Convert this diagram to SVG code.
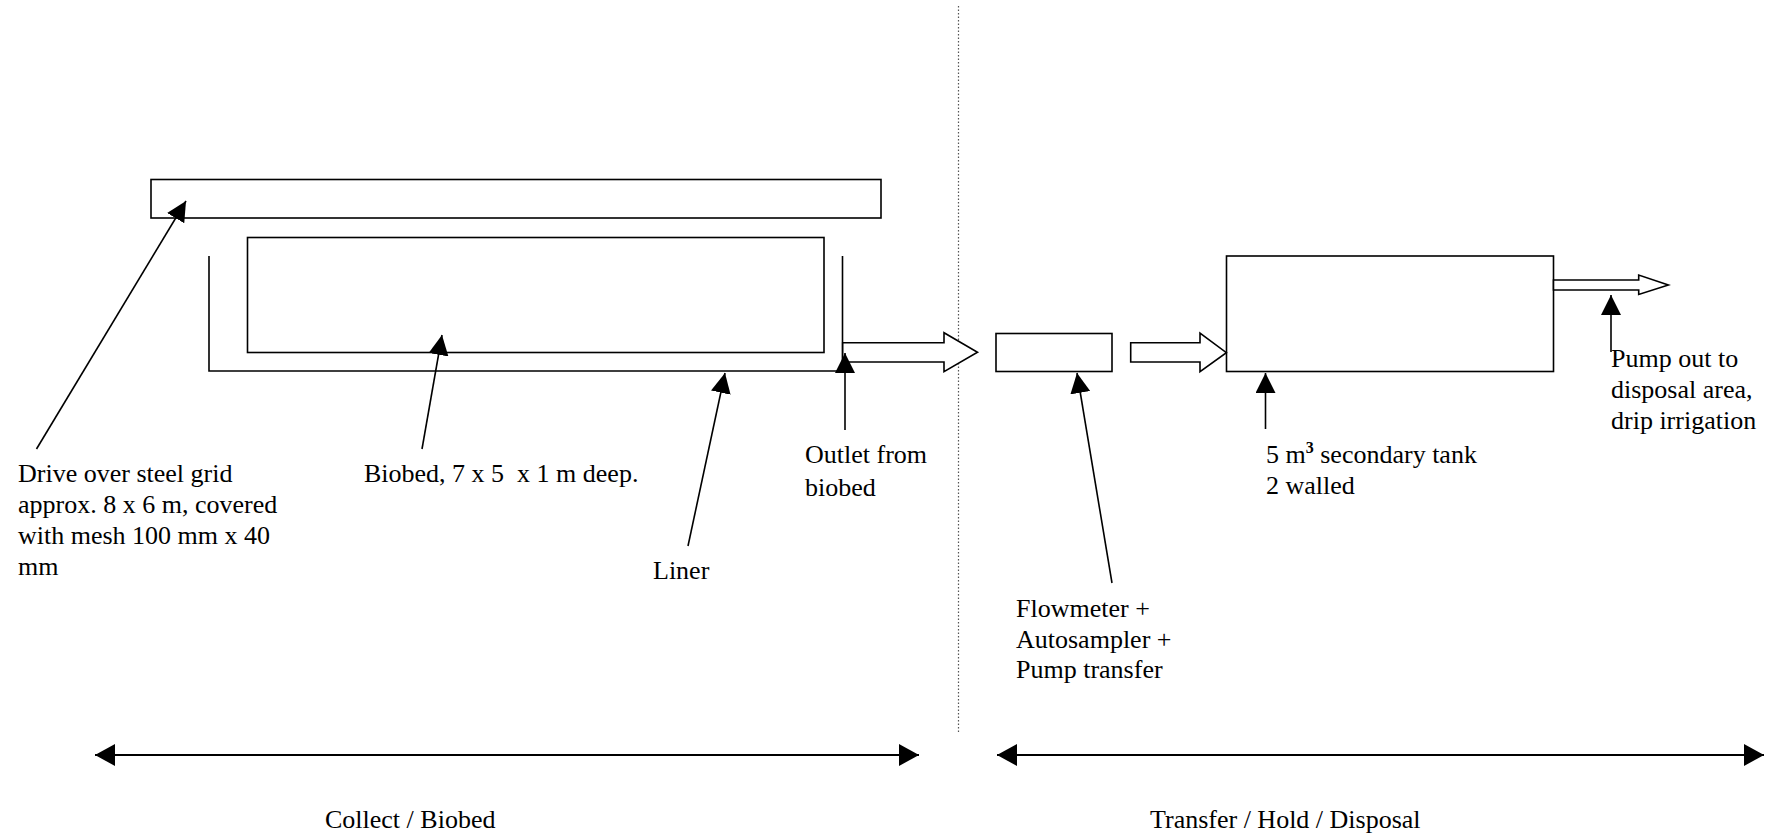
<svg xmlns="http://www.w3.org/2000/svg" width="1783" height="837" viewBox="0 0 1783 837">
<style>
  .box { fill: #ffffff; stroke: #000000; stroke-width: 1.6; }
  .ln { fill: none; stroke: #000000; stroke-width: 1.6; }
  .ptr { fill: none; stroke: #000000; stroke-width: 1.6; marker-end: url(#tri); }
  .dbl { fill: none; stroke: #000000; stroke-width: 2; marker-start: url(#triS); marker-end: url(#tri2); }
  .blk { fill: #ffffff; stroke: #000000; stroke-width: 1.6; stroke-linejoin: miter; }
  .dot { fill: none; stroke: #555555; stroke-width: 1.2; stroke-dasharray: 1.5 2; }
  text { font-family: "Liberation Serif", "Times New Roman", serif; font-size: 26px; fill: #000000; }
</style>
<defs>
  <marker id="tri" viewBox="0 0 20 20" refX="20" refY="10" markerWidth="20" markerHeight="20" markerUnits="userSpaceOnUse" orient="auto">
    <path d="M0,0 L20,10 L0,20 Z" fill="#000000"/>
  </marker>
  <marker id="tri2" viewBox="0 0 20 22" refX="20" refY="11" markerWidth="20" markerHeight="22" markerUnits="userSpaceOnUse" orient="auto">
    <path d="M0,0 L20,11 L0,22 Z" fill="#000000"/>
  </marker>
  <marker id="triS" viewBox="0 0 20 22" refX="0" refY="11" markerWidth="20" markerHeight="22" markerUnits="userSpaceOnUse" orient="auto">
    <path d="M20,0 L0,11 L20,22 Z" fill="#000000"/>
  </marker>
</defs>

<line class="dot" x1="958.5" y1="6" x2="958.5" y2="733"/>

<g id="grid">
  <rect class="box" x="151" y="179.5" width="730" height="38.5"/>
  <text x="18" y="482">Drive over steel grid</text>
  <text x="18" y="513">approx. 8 x 6 m, covered</text>
  <text x="18" y="544">with mesh 100 mm x 40</text>
  <text x="18" y="575">mm</text>
</g>

<g id="biobed">
  <rect class="box" x="247.5" y="237.5" width="576.5" height="115"/>
  <text x="364" y="482" xml:space="preserve">Biobed, 7 x 5  x 1 m deep.</text>
</g>

<g id="liner">
  <path class="ln" d="M209,256 L209,371 L842.5,371 L842.5,256"/>
  <text x="653" y="579">Liner</text>
</g>

<g id="outlet">
  <text x="805" y="463">Outlet from</text>
  <text x="805" y="496">biobed</text>
</g>

<g id="flowmeter">
  <rect class="box" x="996" y="333.5" width="116" height="38"/>
  <text x="1016" y="617">Flowmeter +</text>
  <text x="1016" y="648">Autosampler +</text>
  <text x="1016" y="678">Pump transfer</text>
</g>

<g id="tank">
  <rect class="box" x="1226.5" y="256" width="327" height="115.5"/>
  <text x="1266" y="463">5 m<tspan font-size="16" font-weight="bold" dy="-10">3</tspan><tspan dy="10"> secondary tank</tspan></text>
  <text x="1266" y="494">2 walled</text>
</g>

<g id="disposal">
  <text x="1611" y="367">Pump out to</text>
  <text x="1611" y="398">disposal area,</text>
  <text x="1611" y="429">drip irrigation</text>
</g>

<g id="collect-label">
  <text x="325" y="828">Collect / Biobed</text>
</g>
<g id="transfer-label">
  <text x="1150" y="828">Transfer / Hold / Disposal</text>
</g>

<g id="connectors">
  <path class="blk" d="M842.7,342.7 L944,342.7 L944,332.7 L977.5,352.3 L944,371.7 L944,362 L842.7,362 Z"/>
  <path class="blk" d="M1130.7,342.7 L1200,342.7 L1200,333 L1226.4,352.7 L1200,371.7 L1200,362 L1130.7,362 Z"/>
  <path class="blk" d="M1553.5,280 L1638.7,280 L1638.7,275 L1668.4,285 L1638.7,294.5 L1638.7,290 L1553.5,290 Z"/>
  <line class="ptr" x1="36.5" y1="449" x2="186" y2="201"/>
  <line class="ptr" x1="422" y1="449" x2="442" y2="335"/>
  <line class="ptr" x1="688" y1="546" x2="725" y2="373"/>
  <line class="ptr" x1="845" y1="430" x2="845" y2="353"/>
  <line class="ptr" x1="1112" y1="583" x2="1077" y2="373"/>
  <line class="ptr" x1="1265.5" y1="429" x2="1265.5" y2="373"/>
  <line class="ptr" x1="1611" y1="352" x2="1611" y2="295"/>
  <line class="dbl" x1="95" y1="755" x2="919" y2="755"/>
  <line class="dbl" x1="997" y1="755" x2="1764" y2="755"/>
</g>
</svg>
